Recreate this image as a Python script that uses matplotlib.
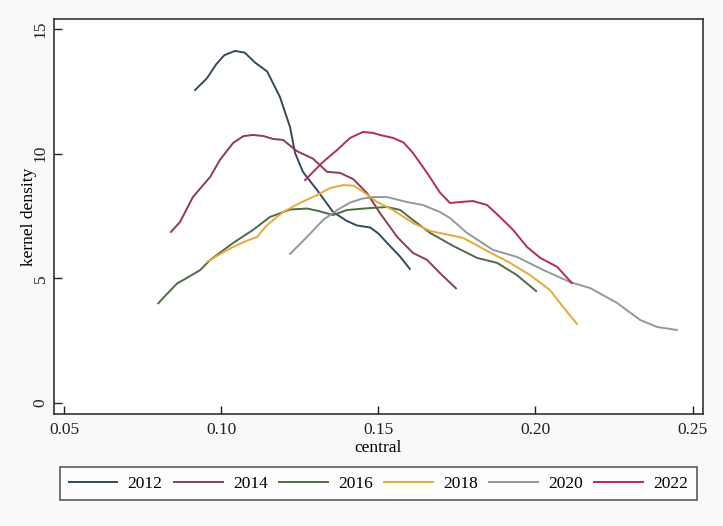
import matplotlib
matplotlib.use('Agg')
import matplotlib.pyplot as plt

# kernel density curves, one pair of lists per year
x_2012 = [0.0917, 0.0955, 0.0985, 0.1010, 0.1044, 0.1075, 0.1108, 0.1146, 0.1187, 0.1219, 0.1235,
          0.1260, 0.1305, 0.1356, 0.1400, 0.1432, 0.1474, 0.1500, 0.1528, 0.1570, 0.1600]
y_2012 = [12.55, 13.03, 13.6, 13.95, 14.12, 14.05, 13.65, 13.3, 12.27, 11.07, 10.03,
          9.27, 8.54, 7.66, 7.3, 7.12, 7.04, 6.8, 6.42, 5.86, 5.38]

x_2014 = [0.0840, 0.0869, 0.0910, 0.0965, 0.0996, 0.1038, 0.1070, 0.1100, 0.1133, 0.1165, 0.1197,
          0.1241, 0.1292, 0.1337, 0.1378, 0.1420, 0.1464, 0.1505, 0.1560, 0.1610, 0.1655, 0.1696, 0.1747]
y_2014 = [6.86, 7.26, 8.26, 9.07, 9.75, 10.43, 10.7, 10.75, 10.71, 10.59, 10.55,
          10.1, 9.8, 9.27, 9.23, 8.98, 8.42, 7.62, 6.66, 6.02, 5.74, 5.21, 4.6]

x_2016 = [0.0800, 0.0812, 0.0860, 0.0879, 0.0933, 0.0965, 0.1038, 0.1101, 0.1155, 0.1219, 0.1273,
          0.1310, 0.1356, 0.1400, 0.1474, 0.1528, 0.1570, 0.1610, 0.1665, 0.1738, 0.1814, 0.1878,
          0.1941, 0.2002]
y_2016 = [4.0, 4.17, 4.8, 4.93, 5.33, 5.74, 6.42, 6.94, 7.46, 7.76, 7.8,
          7.7, 7.54, 7.74, 7.82, 7.86, 7.74, 7.34, 6.82, 6.3, 5.82, 5.62,
          5.13, 4.49]

x_2018 = [0.0955, 0.1000, 0.1038, 0.1080, 0.1114, 0.1146, 0.1197, 0.1250, 0.1305, 0.1346, 0.1388,
          0.1420, 0.1442, 0.1496, 0.1547, 0.1610, 0.1665, 0.1718, 0.1770, 0.1846, 0.1919, 0.1983,
          0.2046, 0.2088, 0.2132]
y_2018 = [5.66, 6.0, 6.26, 6.5, 6.66, 7.14, 7.66, 8.02, 8.34, 8.62, 8.74,
          8.72, 8.56, 8.06, 7.74, 7.22, 6.9, 6.76, 6.62, 6.1, 5.62, 5.13,
          4.53, 3.85, 3.17]

x_2020 = [0.1219, 0.1273, 0.1324, 0.1369, 0.1410, 0.1450, 0.1483, 0.1528, 0.1591, 0.1642, 0.1696,
          0.1728, 0.1782, 0.1865, 0.1941, 0.2024, 0.2110, 0.2174, 0.2260, 0.2333, 0.2387, 0.2450]
y_2020 = [5.98, 6.66, 7.34, 7.74, 8.04, 8.2, 8.26, 8.26, 8.06, 7.94, 7.66,
          7.42, 6.82, 6.14, 5.86, 5.34, 4.85, 4.61, 4.01, 3.33, 3.05, 2.93]

x_2022 = [0.1267, 0.1324, 0.1369, 0.1410, 0.1451, 0.1483, 0.1505, 0.1547, 0.1580, 0.1610, 0.1655,
          0.1696, 0.1728, 0.1760, 0.1801, 0.1846, 0.1887, 0.1929, 0.1973, 0.2015, 0.2069, 0.2116]
y_2022 = [8.94, 9.67, 10.15, 10.63, 10.87, 10.83, 10.75, 10.63, 10.45, 10.03, 9.23,
          8.44, 8.02, 8.06, 8.1, 7.94, 7.46, 6.94, 6.26, 5.82, 5.46, 4.81]

years = ['2012', '2014', '2016', '2018', '2020', '2022']
xs = [x_2012, x_2014, x_2016, x_2018, x_2020, x_2022]
ys = [y_2012, y_2014, y_2016, y_2018, y_2020, y_2022]
colors = ['#34495c', '#8e3b55', '#4f6b45', '#e6a93a', '#8f9b9b', '#b22c55']

x_ticks = [0.05, 0.10, 0.15, 0.20, 0.25]
y_ticks = [0, 5, 10, 15]

plt.rcParams['font.family'] = ['Liberation Serif', 'DejaVu Serif']

fig = plt.figure(figsize=(7.23, 5.26), dpi=100, facecolor='#f8f9f9')
ax = fig.add_axes([54/723, 1 - 414/526, 649/723, 395/526])
ax.set_facecolor('white')

for x, y, c, lab in zip(xs, ys, colors, years):
    ax.plot(x, y, color=c, lw=1.4, label=lab)

ax.set_xlim(0.0468, 0.2533)
ax.set_ylim(-0.44, 15.4)
ax.set_xticks(x_ticks)
ax.set_xticklabels(['%.2f' % t for t in x_ticks])
ax.set_yticks(y_ticks)
ax.set_yticklabels([str(t) for t in y_ticks], rotation=90, va='center')
ax.tick_params(direction='in', length=6, width=1, labelsize=12.5, colors='#222222')
ax.tick_params(axis='x', pad=6)
ax.tick_params(axis='y', pad=4)
for s in ax.spines.values():
    s.set_color('#333333')
    s.set_linewidth(1.2)

ax.set_xlabel('central', fontsize=12.5, labelpad=1)
ax.set_ylabel('kernel density', fontsize=12.5, labelpad=-3)

handles, labels = ax.get_legend_handles_labels()
leg = fig.legend(handles, labels, loc='center', ncol=6, mode='expand',
                 bbox_to_anchor=(60/723, 1 - 500/526, 637/723, 33/526),
                 fontsize=12.5, frameon=True, fancybox=False, handlelength=2.8,
                 handletextpad=0.6, borderaxespad=0, borderpad=0.5)
leg.get_frame().set_edgecolor('#333333')
leg.get_frame().set_linewidth(1.2)

plt.savefig('out.png', dpi=100, facecolor=fig.get_facecolor())
